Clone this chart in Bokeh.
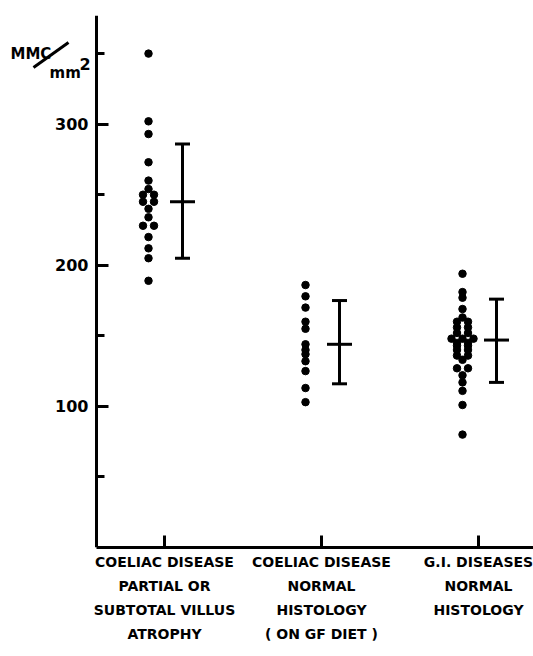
from bokeh.plotting import figure
from bokeh.models import Range1d, FixedTicker, Label, Arrow
from bokeh.embed import file_html
from bokeh.resources import INLINE

# ---- data ----
groups = [1, 2, 3]
group_labels = [
    "COELIAC DISEASE\nPARTIAL OR\nSUBTOTAL VILLUS\nATROPHY",
    "COELIAC DISEASE\nNORMAL\nHISTOLOGY\n( ON GF DIET )",
    "G.I. DISEASES\nNORMAL\nHISTOLOGY",
]
values_g1 = [350, 302, 293, 273, 260, 254, 250, 250, 245, 245, 240, 234, 228, 228, 220, 212, 205, 189]
values_g2 = [186, 178, 170, 160, 155, 144, 140, 137, 132, 125, 113, 103]
values_g3 = [194, 181, 177, 169, 163, 160, 160, 156, 156, 152, 152, 148, 148, 148, 145, 145,
             143, 143, 140, 140, 136, 136, 133, 127, 127, 122, 117, 111, 101, 80]
means = [245, 144, 147]
lower = [205, 116, 117]
upper = [286, 175, 176]
y_major_ticks = [100, 200, 300]
y_minor_ticks = [50, 150, 250, 350]

FONT = "DejaVu Sans"

W, H = 533, 656
top_b, bottom_b = 15, 109
frame_h = H - top_b - bottom_b
PX_X = 157.0                    # px per x unit
AXIS_PX = 96                    # y axis position on page
XA = 1 - 68 / PX_X              # data x of the y axis
X0 = XA - AXIS_PX / PX_X
X1 = X0 + W / PX_X
Y1 = 377.0
PX_Y = frame_h / Y1

p = figure(width=W, height=H, output_backend="svg", toolbar_location=None,
           x_range=Range1d(X0, X1), y_range=Range1d(0, Y1),
           min_border_left=0, min_border_right=0, min_border_top=top_b,
           min_border_bottom=bottom_b)
p.outline_line_color = None
p.grid.visible = False
p.background_fill_color = "white"
p.border_fill_color = "white"

# axes
p.yaxis.fixed_location = XA
p.yaxis.ticker = FixedTicker(ticks=y_major_ticks, minor_ticks=y_minor_ticks)
p.yaxis.axis_line_width = 3
p.yaxis.major_tick_line_width = 3
p.yaxis.minor_tick_line_width = 3
p.yaxis.major_tick_in = 12
p.yaxis.major_tick_out = 0
p.yaxis.minor_tick_in = 8
p.yaxis.minor_tick_out = 0
p.yaxis.major_label_text_font = FONT
p.yaxis.major_label_text_font_style = "bold"
p.yaxis.major_label_text_font_size = "16px"
p.yaxis.major_label_text_color = "black"
p.yaxis.major_label_standoff = 8

p.xaxis.bounds = (XA, X1)
p.xaxis.ticker = FixedTicker(ticks=groups, minor_ticks=[])
p.xaxis.major_label_overrides = {g: l for g, l in zip(groups, group_labels)}
p.xaxis.axis_line_width = 3
p.xaxis.major_tick_line_width = 3
p.xaxis.major_tick_in = 12
p.xaxis.major_tick_out = 0
p.xaxis.major_label_text_font = FONT
p.xaxis.major_label_text_font_style = "bold"
p.xaxis.major_label_text_font_size = "14px"
p.xaxis.major_label_text_line_height = 1.5
p.xaxis.major_label_text_color = "black"
p.xaxis.major_label_standoff = 6


def dodge(vals, xc, step=11.0):
    """Spread identical values side by side, centred on xc."""
    counts = {v: vals.count(v) for v in vals}
    seen = {}
    xs = []
    for v in vals:
        i = seen.get(v, 0)
        seen[v] = i + 1
        off = (i - (counts[v] - 1) / 2) * step
        xs.append(xc + off / PX_X)
    return xs


dot_off = -16 / PX_X
bar_off = 18 / PX_X
for g, vals in zip(groups, [values_g1, values_g2, values_g3]):
    xs = dodge(vals, g + dot_off)
    p.scatter(xs, vals, size=7.5, color="black")

bx = [g + bar_off for g in groups]
cap = 7.5 / PX_X
mhalf = 12.5 / PX_X
p.segment(bx, lower, bx, upper, line_width=3, color="black")
p.segment([x - cap for x in bx], upper, [x + cap for x in bx], upper, line_width=3, color="black")
p.segment([x - cap for x in bx], lower, [x + cap for x in bx], lower, line_width=3, color="black")
p.segment([x - mhalf for x in bx], means, [x + mhalf for x in bx], means, line_width=3, color="black")


# y-axis unit label (page-pixel helpers)
def dx(px):
    return X0 + px / PX_X


def dy(py):
    return (top_b + frame_h - py) / PX_Y


p.add_layout(Label(x=dx(10), y=dy(53), text="MMC", text_font=FONT, text_font_style="bold",
                   text_font_size="15px", text_baseline="alphabetic", text_color="black"))
p.add_layout(Label(x=dx(49), y=dy(72), text="mm", text_font=FONT, text_font_style="bold",
                   text_font_size="15px", text_baseline="alphabetic", text_color="black"))
p.add_layout(Label(x=dx(79), y=dy(63), text="2", text_font=FONT, text_font_style="bold",
                   text_font_size="16px", text_baseline="alphabetic", text_color="black"))
p.add_layout(Arrow(end=None, x_start=dx(33), y_start=dy(67), x_end=dx(68), y_end=dy(42),
                   line_width=3, line_color="black"))

open("out.html", "w").write(file_html(p, INLINE))
